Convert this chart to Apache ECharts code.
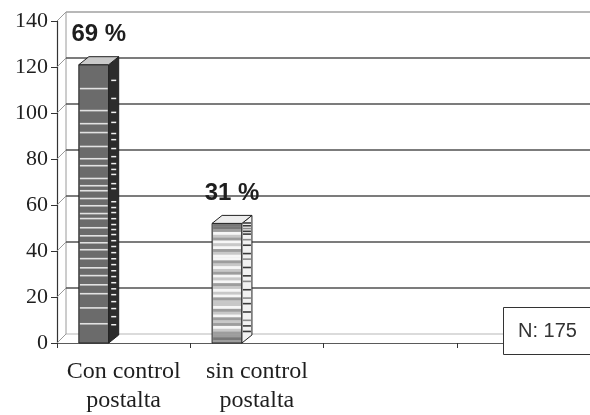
<!DOCTYPE html>
<html>
<head>
<meta charset="utf-8">
<script src="https://cdn.jsdelivr.net/npm/echarts@6.0.0/dist/echarts.min.js"></script>
<style>
  html, body { margin: 0; padding: 0; background: #ffffff; }
  #chart { width: 590px; height: 415px; }
</style>
</head>
<body>
<div id="chart"></div>
<script>
// Data
const categories = ['Con control\npostalta', 'sin control\npostalta', '', ''];
const patients = [121, 52];
const shareLabels = ['69 %', '31 %'];
const yTicks = [0, 20, 40, 60, 80, 100, 120, 140];
const totalLabel = 'N: 175';

// Depth offsets of the pseudo-3D walls and columns (px)
const WALL_DX = 9, WALL_DY = 9;
const BAR_DX = 10, BAR_DY = 8;

// Column textures: stripe positions as fractions of the column height, measured from the top
const texFront1 = [.083, .162, .209, .241, .291, .335, .360, .406, .432, .450, .478, .504, .532, .550,
  .583, .612, .637, .662, .694, .727, .755, .788, .820, .871, .928];
const texSide1 = [.068, .133, .183, .219, .259, .281, .313, .342, .367, .388, .406, .439, .457, .504,
  .525, .543, .565, .586, .604, .622, .644, .665, .687, .709, .730, .752, .773, .795, .817, .838,
  .863, .888, .917, .946];
// Row-by-row shading for the second column (one character per row)
const texFront2 = 'ddmwlmwlwmlwwmlwlmwlwmlwlwmllwmlwmlmwlmmdm';
const texSide2 = 'dddmddwmwdwwdwmwwdwwdwmwwdwwmwdwwdwwmwdwdwd';

const shades = { d: '#777777', m: '#9d9d9d', l: '#c8c8c8', w: '#f6f6f6' };
const sideShades = { d: '#3a3a3a', m: '#8a8a8a', w: null };

function wallItem(params, api) {
  const cs = params.coordSys;
  const v = api.value(1);
  const y = api.coord([0, v])[1];
  const x0 = cs.x;
  const topVal = yTicks[yTicks.length - 1];
  let hColor = '#505050', hWidth = 1.6;
  if (v === 0) { hColor = '#b8b8b8'; hWidth = 1.2; }
  if (v === topVal) { hColor = '#a0a0a0'; hWidth = 1.3; }
  const children = [
    { type: 'line', shape: { x1: x0, y1: y, x2: x0 + WALL_DX, y2: y - WALL_DY },
      style: { stroke: '#9a9a9a', lineWidth: 1 } },
    { type: 'line', shape: { x1: x0 + WALL_DX, y1: y - WALL_DY, x2: cs.x + cs.width + 10, y2: y - WALL_DY },
      style: { stroke: hColor, lineWidth: hWidth } }
  ];
  if (params.dataIndex === 0) {
    const yTop = api.coord([0, topVal])[1];
    children.push({ type: 'line',
      shape: { x1: x0 + WALL_DX, y1: y - WALL_DY, x2: x0 + WALL_DX, y2: yTop - WALL_DY },
      style: { stroke: '#9a9a9a', lineWidth: 1 } });
  }
  return { type: 'group', children: children };
}

function barItem(params, api) {
  const idx = api.value(0);
  const val = api.value(1);
  const band = api.size([1, 0])[0];
  const base = api.coord([idx, 0]);
  const yTop = api.coord([idx, val])[1];
  const yBot = base[1];
  const h = yBot - yTop;
  const L = base[0] - band / 2 + band * 0.164;
  const W = band * 0.224;
  const R = L + W;
  const first = params.dataIndex === 0;
  const children = [];

  // front face
  children.push({ type: 'rect', shape: { x: L, y: yTop, width: W, height: h },
    style: { fill: first ? '#6b6b6b' : '#bcbcbc' } });
  if (first) {
    texFront1.forEach(f => children.push({ type: 'rect',
      shape: { x: L + 1, y: yTop + f * h, width: W - 2, height: 1.6 },
      style: { fill: '#e2e2e2' } }));
  } else {
    const n = texFront2.length, rh = h / n;
    for (let i = 0; i < n; i++) {
      children.push({ type: 'rect', shape: { x: L + 1, y: yTop + i * rh, width: W - 2, height: rh + 0.3 },
        style: { fill: shades[texFront2[i]] } });
    }
  }
  children.push({ type: 'rect', shape: { x: L, y: yTop, width: W, height: h },
    style: { fill: 'none', stroke: '#222222', lineWidth: 1 } });

  // side face
  const sidePts = [[R, yTop], [R + BAR_DX, yTop - BAR_DY], [R + BAR_DX, yBot - BAR_DY], [R, yBot]];
  children.push({ type: 'polygon', shape: { points: sidePts },
    style: { fill: first ? '#2c2c2c' : '#f2f2f2' } });
  if (first) {
    texSide1.forEach(f => children.push({ type: 'rect',
      shape: { x: R + 2.5, y: yTop + f * h - BAR_DY / 2, width: BAR_DX - 5, height: 1.5 },
      style: { fill: '#f0f0f0' } }));
  } else {
    const n = texSide2.length, rh = h / n;
    for (let i = 1; i < n - 1; i++) {
      const c = sideShades[texSide2[i]];
      if (!c) continue;
      children.push({ type: 'rect',
        shape: { x: R + 1, y: yTop + i * rh - BAR_DY / 2, width: BAR_DX - 2, height: Math.min(rh, 1.6) },
        style: { fill: c } });
    }
  }
  children.push({ type: 'polygon', shape: { points: sidePts },
    style: { fill: 'none', stroke: '#222222', lineWidth: 1 } });

  // top face
  children.push({ type: 'polygon',
    shape: { points: [[L, yTop], [L + BAR_DX, yTop - BAR_DY], [R + BAR_DX, yTop - BAR_DY], [R, yTop]] },
    style: { fill: first ? '#c9c9c9' : '#ececec', stroke: '#222222', lineWidth: 1 } });

  // share label
  children.push({ type: 'text', x: (L + R + BAR_DX) / 2, y: yTop - BAR_DY - 22,
    style: { text: shareLabels[params.dataIndex], fill: '#1e1e1e', fontSize: 24, fontWeight: 'bold',
      fontFamily: '"Liberation Sans", Arial, sans-serif', align: 'center', verticalAlign: 'middle' } });

  return { type: 'group', children: children };
}

const chart = echarts.init(document.getElementById('chart'), null, { renderer: 'canvas' });
chart.setOption({
  animation: false,
  backgroundColor: '#ffffff',
  grid: { left: 57, top: 21, width: 536, height: 322, containLabel: false },
  xAxis: {
    type: 'category',
    data: categories,
    boundaryGap: true,
    axisLine: { show: true, lineStyle: { color: '#5a5a5a', width: 1 } },
    axisTick: { show: true, length: 5, lineStyle: { color: '#333333' } },
    axisLabel: { interval: 0, margin: 14, color: '#1e1e1e', fontSize: 24, lineHeight: 29,
      fontFamily: '"Liberation Serif", "Times New Roman", serif' },
    splitLine: { show: false }
  },
  yAxis: {
    type: 'value',
    min: 0, max: 140, interval: 20,
    axisLine: { show: true, lineStyle: { color: '#333333', width: 1.2 } },
    axisTick: { show: true, length: 6, lineStyle: { color: '#333333' } },
    axisLabel: { margin: 9, color: '#1e1e1e', fontSize: 22,
      fontFamily: '"Liberation Serif", "Times New Roman", serif' },
    splitLine: { show: false }
  },
  series: [
    {
      type: 'custom',
      name: 'walls',
      clip: false,
      silent: true,
      z: 1,
      renderItem: wallItem,
      data: yTicks.map(v => [0, v])
    },
    {
      type: 'custom',
      name: 'patients',
      clip: false,
      z: 5,
      renderItem: barItem,
      data: patients.map((v, i) => [i, v])
    }
  ],
  graphic: [
    { type: 'rect', z: 100, shape: { x: 503.5, y: 307.5, width: 110, height: 47 },
      style: { fill: '#ffffff', stroke: '#333333', lineWidth: 1 } },
    { type: 'text', z: 101, x: 518, y: 331,
      style: { text: totalLabel, fill: '#333333', fontSize: 20,
        fontFamily: '"Liberation Sans", Arial, sans-serif', verticalAlign: 'middle' } }
  ]
});
</script>
</body>
</html>
